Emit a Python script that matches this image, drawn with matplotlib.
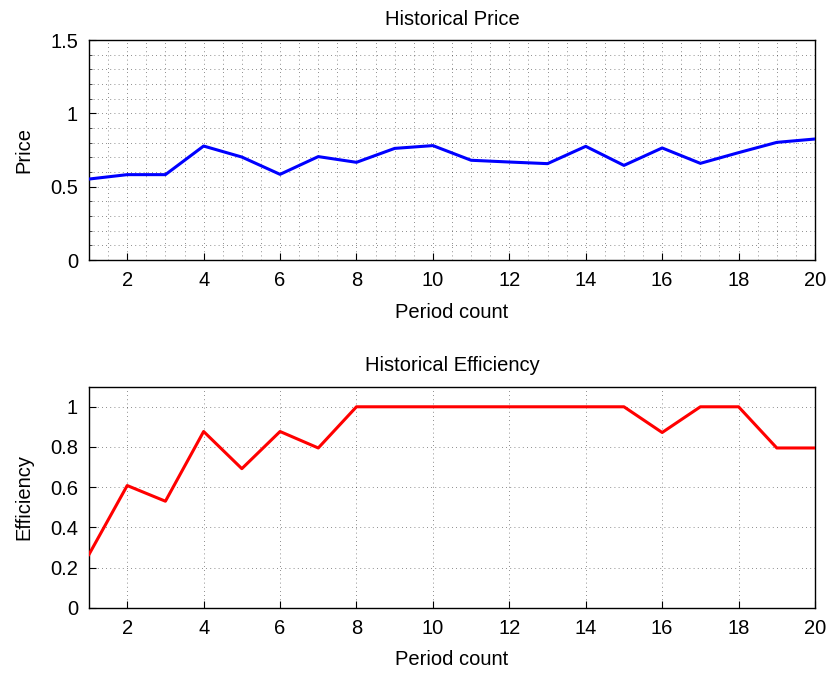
import matplotlib
matplotlib.use("Agg")
import matplotlib.pyplot as plt
from matplotlib.ticker import MultipleLocator

plt.rcParams['font.family'] = ['Liberation Sans', 'DejaVu Sans']
plt.rcParams['font.size'] = 14.5

periods = list(range(1, 21))
price = [0.552, 0.582, 0.582, 0.777, 0.702, 0.584, 0.705, 0.666, 0.761, 0.780,
         0.680, 0.668, 0.657, 0.775, 0.645, 0.764, 0.659, 0.732, 0.802, 0.825]
efficiency = [0.265, 0.608, 0.530, 0.877, 0.692, 0.877, 0.795, 1.0, 1.0, 1.0,
              1.0, 1.0, 1.0, 1.0, 1.0, 0.872, 1.0, 1.0, 0.795, 0.795]
xticks = list(range(2, 21, 2))

fig = plt.figure(figsize=(8.29, 6.73), dpi=100)
ax1 = fig.add_axes([89/829, 1 - 260/673, 726/829, 220/673])
ax2 = fig.add_axes([89/829, 1 - 607.7/673, 726/829, 221/673])

grid_kw = dict(color='black', linestyle=(0, (1, 4)), linewidth=0.6, alpha=0.6)

# top: price with minor grid
ax1.plot(periods, price, color='#0000ff', linewidth=2.2, zorder=3)
ax1.set_xlim(1, 20)
ax1.set_ylim(0, 1.5)
ax1.set_xticks(xticks)
ax1.set_yticks([0, 0.5, 1, 1.5])
ax1.set_yticklabels(['0', '0.5', '1', '1.5'])
ax1.xaxis.set_minor_locator(MultipleLocator(0.5))
ax1.yaxis.set_minor_locator(MultipleLocator(0.1))
ax1.grid(True, which='both', **grid_kw)
ax1.set_title("Historical Price", fontsize=14.5, pad=11)
ax1.set_xlabel("Period count", labelpad=9)
ax1.set_ylabel("Price", labelpad=12)

# bottom: efficiency with major grid
ax2.plot(periods, efficiency, color='#ff0000', linewidth=2.2, zorder=3)
ax2.set_xlim(1, 20)
ax2.set_ylim(0, 1.1)
ax2.set_xticks(xticks)
ax2.set_yticks([0, 0.2, 0.4, 0.6, 0.8, 1])
ax2.set_yticklabels(['0', '0.2', '0.4', '0.6', '0.8', '1'])
ax2.grid(True, which='major', **grid_kw)
ax2.set_title("Historical Efficiency", fontsize=14.5, pad=11)
ax2.set_xlabel("Period count", labelpad=9)
ax2.set_ylabel("Efficiency", labelpad=12)

for ax in (ax1, ax2):
    ax.tick_params(which='major', direction='in', length=5, width=0.8,
                   top=False, right=False, pad=8)
    ax.tick_params(which='minor', direction='in', length=2.5, width=0.5,
                   top=False, right=False, bottom=False)
    for s in ax.spines.values():
        s.set_linewidth(1.0)
    ax.set_axisbelow(True)

ax2.tick_params(which='minor', left=False, bottom=False)

fig.savefig("out.png", dpi=100)
